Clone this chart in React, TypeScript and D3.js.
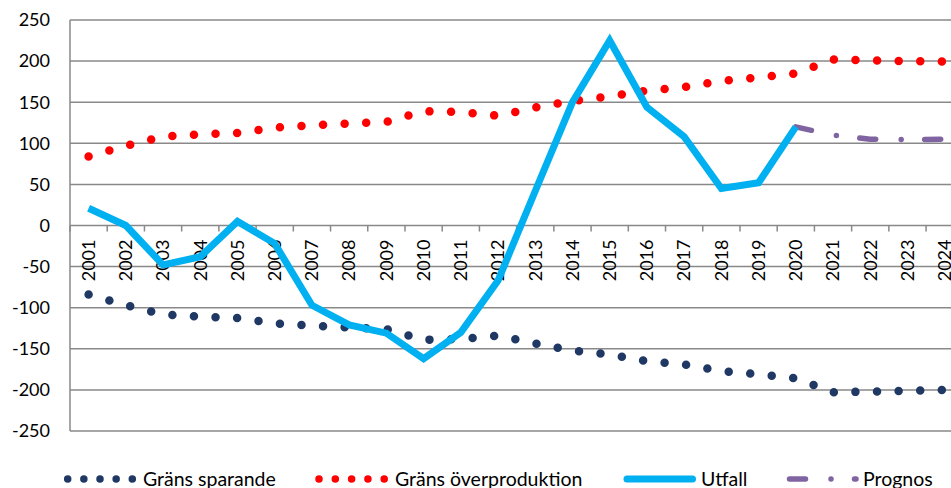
import React, { useEffect, useRef } from 'react';
import * as d3 from 'd3';

const years = ['2001', '2002', '2003', '2004', '2005', '2006', '2007', '2008', '2009', '2010', '2011', '2012',
  '2013', '2014', '2015', '2016', '2017', '2018', '2019', '2020', '2021', '2022', '2023', '2024'];

// Gräns sparande (lower limit)
const gransSparande = [-84, -97, -108, -111, -112.5, -119, -122, -124, -126, -139, -138, -134,
  -143.5, -152, -157, -165, -169, -177, -181, -186, -203, -202, -201, -200];

// Gräns överproduktion (upper limit)
const gransOver = [84, 97, 108, 111, 112.5, 119, 122, 124, 126, 139, 138, 133.5,
  143.5, 151.5, 157, 164, 168.5, 176, 180, 185, 202, 201, 200, 199.5];

// Utfall 2001-2020
const utfallYears = years.slice(0, 20);
const utfall = [21, 0, -48, -38, 5, -22, -97, -121, -131, -162, -130, -67, 42, 150, 225, 144, 108, 45, 52, 120];

// Prognos 2020-2024
const prognosYears = ['2020', '2021', '2022', '2023', '2024'];
const prognos = [120, 110, 105, 104.5, 105];

const yTicks = [250, 200, 150, 100, 50, 0, -50, -100, -150, -200, -250];

const App = () => {
  const svgRef = useRef<SVGSVGElement>(null);

  useEffect(() => {
    const width = 951;
    const height = 488;
    const font = 'Lato, "Open Sans", sans-serif';
    const gridColor = '#898989';

    const svg = d3.select(svgRef.current);
    svg.selectAll('*').remove();
    svg.attr('width', width).attr('height', height).attr('viewBox', `0 0 ${width} ${height}`);

    const x = d3.scaleBand().domain(years).range([70, 963.3]).padding(0);
    const y = d3.scaleLinear().domain([-250, 250]).range([431, 20]);
    const cx = (d: string) => (x(d) as number) + x.bandwidth() / 2;

    const g = svg.append('g');

    // Gridlines
    g.selectAll('line.grid')
      .data(yTicks)
      .enter()
      .append('line')
      .attr('x1', 70)
      .attr('x2', width)
      .attr('y1', d => y(d))
      .attr('y2', d => y(d))
      .attr('stroke', gridColor)
      .attr('stroke-width', 1.5);

    // Y axis line
    g.append('line')
      .attr('x1', 70).attr('x2', 70)
      .attr('y1', y(250)).attr('y2', y(-250))
      .attr('stroke', gridColor).attr('stroke-width', 1.5);

    // Y labels
    g.selectAll('text.ylab')
      .data(yTicks)
      .enter()
      .append('text')
      .attr('x', 50)
      .attr('y', d => y(d))
      .attr('dy', '0.35em')
      .attr('text-anchor', 'end')
      .attr('font-family', font)
      .attr('font-size', 18)
      .attr('fill', '#000')
      .text(d => d);

    // X tick marks at category boundaries
    const bounds = years.map(d => x(d) as number).concat([x.range()[1]]);
    g.selectAll('line.xtick')
      .data(bounds)
      .enter()
      .append('line')
      .attr('x1', d => d).attr('x2', d => d)
      .attr('y1', y(0)).attr('y2', y(0) + 6)
      .attr('stroke', gridColor).attr('stroke-width', 1.5);

    // X labels (rotated)
    g.selectAll('text.xlab')
      .data(years)
      .enter()
      .append('text')
      .attr('transform', d => `translate(${cx(d)},${y(0) + 14}) rotate(-90)`)
      .attr('dy', '0.35em')
      .attr('text-anchor', 'end')
      .attr('font-family', font)
      .attr('font-size', 18)
      .attr('fill', '#000')
      .text(d => d);

    const line = d3.line<[string, number]>()
      .x(d => cx(d[0]))
      .y(d => y(d[1]));

    // Gräns sparande
    g.append('path')
      .attr('d', line(years.map((d, i) => [d, gransSparande[i]] as [string, number])))
      .attr('fill', 'none')
      .attr('stroke', '#1F3864')
      .attr('stroke-width', 8.5)
      .attr('stroke-linecap', 'round')
      .attr('stroke-dasharray', '0 21.6');

    // Gräns överproduktion
    g.append('path')
      .attr('d', line(years.map((d, i) => [d, gransOver[i]] as [string, number])))
      .attr('fill', 'none')
      .attr('stroke', '#FF0000')
      .attr('stroke-width', 8.5)
      .attr('stroke-linecap', 'round')
      .attr('stroke-dasharray', '0 21.6');

    // Prognos
    g.append('path')
      .attr('d', line(prognosYears.map((d, i) => [d, prognos[i]] as [string, number])))
      .attr('fill', 'none')
      .attr('stroke', '#8064A2')
      .attr('stroke-width', 5.5)
      .attr('stroke-linecap', 'round')
      .attr('stroke-dasharray', '16 25.5 0 23.5');

    // Utfall
    g.append('path')
      .attr('d', line(utfallYears.map((d, i) => [d, utfall[i]] as [string, number])))
      .attr('fill', 'none')
      .attr('stroke', '#00B0F0')
      .attr('stroke-width', 7);

    // Legend
    const ly = 479;
    const legend = svg.append('g');
    const items = [
      { label: 'Gräns sparande', color: '#1F3864', x1: 67.7, x2: 132.3, tx: 143, w: 7.5, dash: '0 16.15' },
      { label: 'Gräns överproduktion', color: '#FF0000', x1: 319, x2: 384.3, tx: 395, w: 7.5, dash: '0 16.3' },
      { label: 'Utfall', color: '#00B0F0', x1: 627, x2: 692.5, tx: 701, w: 7, dash: null },
      { label: 'Prognos', color: '#8064A2', x1: 789.5, x2: 856, tx: 863, w: 5.5, dash: '16 25.5 0 23.5' },
    ];
    items.forEach(it => {
      legend.append('line')
        .attr('x1', it.x1).attr('x2', it.x2)
        .attr('y1', ly).attr('y2', ly)
        .attr('stroke', it.color)
        .attr('stroke-width', it.w)
        .attr('stroke-linecap', 'round')
        .attr('stroke-dasharray', it.dash);
      legend.append('text')
        .attr('x', it.tx)
        .attr('y', ly)
        .attr('dy', '0.35em')
        .attr('font-family', font)
        .attr('font-size', 19.5)
        .attr('fill', '#000')
        .text(it.label);
    });
  }, []);

  return (
    <svg ref={svgRef} style={{ position: 'absolute', left: 0, top: 0, background: '#fff' }} />
  );
};

export default App;
